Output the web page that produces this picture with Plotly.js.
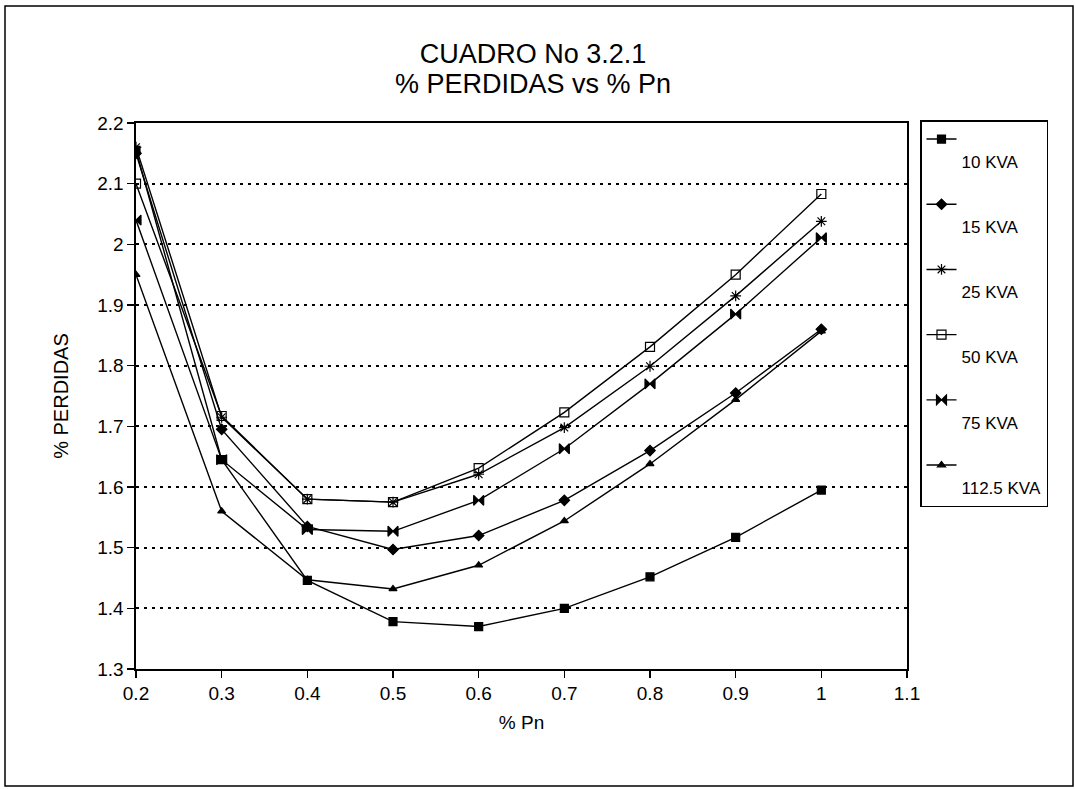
<!DOCTYPE html>
<html>
<head>
<meta charset="utf-8">
<script src="https://cdn.plot.ly/plotly-3.0.1.min.js"></script>
<style>
  html, body { margin: 0; padding: 0; background: #fff; }
  #chart { width: 1075px; height: 789px; }
</style>
</head>
<body>
<div id="chart"></div>
<script>
// Carga relativa (% Pn) y pérdidas (%) por potencia nominal del transformador
const carga = [0.2, 0.3, 0.4, 0.5, 0.6, 0.7, 0.8, 0.9, 1.0];

const perd10kva  = [2.155, 1.645, 1.446, 1.378, 1.370, 1.400, 1.452, 1.517, 1.595];
const perd15kva  = [2.150, 1.695, 1.535, 1.497, 1.520, 1.578, 1.660, 1.755, 1.860];
const perd25kva  = [2.160, 1.715, 1.580, 1.575, 1.621, 1.698, 1.799, 1.915, 2.038];
const perd50kva  = [2.100, 1.717, 1.580, 1.575, 1.631, 1.723, 1.831, 1.950, 2.083];
const perd75kva  = [2.040, 1.645, 1.530, 1.527, 1.578, 1.663, 1.770, 1.885, 2.011];
const perd112kva = [1.950, 1.560, 1.447, 1.432, 1.471, 1.544, 1.638, 1.744, 1.857];

const nombres = ['10 KVA', '15 KVA', '25 KVA', '50 KVA', '75 KVA', '112.5 KVA'];

const xTicks = [0.2, 0.3, 0.4, 0.5, 0.6, 0.7, 0.8, 0.9, 1.0, 1.1];
const yTicks = [1.3, 1.4, 1.5, 1.6, 1.7, 1.8, 1.9, 2.0, 2.1, 2.2];

const titulo = 'CUADRO No 3.2.1';
const subtitulo = '% PERDIDAS vs % Pn';

const series = [perd10kva, perd15kva, perd25kva, perd50kva, perd75kva, perd112kva];
const simbolos = [
  { symbol: 'square', size: 8 },
  { symbol: 'diamond', size: 8 },
  { symbol: 'asterisk-open', size: 9 },
  { symbol: 'square-open', size: 9 },
  { symbol: 'bowtie', size: 10 },
  { symbol: 'triangle-up', size: 7 }
];

const FONT = 'Liberation Sans, Arial, Helvetica, sans-serif';

const traces = series.map((valores, i) => ({
  type: 'scatter',
  mode: 'lines+markers',
  x: carga,
  y: valores,
  name: '<br>' + nombres[i],
  legendgroup: 'g' + i,
  line: { color: '#000', width: 1.4 },
  marker: {
    symbol: simbolos[i].symbol,
    size: simbolos[i].size,
    color: '#000',
    line: { color: '#000', width: 1.2 }
  }
}));

const layout = {
  width: 1075,
  height: 789,
  paper_bgcolor: '#fff',
  plot_bgcolor: '#fff',
  font: { family: FONT, color: '#000', size: 16 },
  margin: { l: 136, r: 168, t: 123, b: 120, pad: 0 },
  title: {
    text: titulo,
    font: { family: FONT, size: 27, color: '#000' },
    x: 0.515, xref: 'paper', xanchor: 'center',
    y: 1 - 54 / 789, yref: 'container', yanchor: 'middle'
  },
  annotations: [{
    text: subtitulo,
    xref: 'paper', yref: 'paper',
    x: 0.515, xanchor: 'center',
    y: (669 - 84) / 546, yanchor: 'middle',
    showarrow: false,
    font: { family: FONT, size: 27, color: '#000' }
  }],
  xaxis: {
    range: [0.2, 1.1],
    tickvals: xTicks,
    ticktext: xTicks.map(v => String(+v.toFixed(1))),
    ticks: 'outside', ticklen: 7, tickwidth: 1.2, tickcolor: '#000',
    showgrid: false, zeroline: false,
    showline: true, linecolor: '#000', linewidth: 1.6, mirror: true,
    tickfont: { family: FONT, size: 19, color: '#000' },
    title: { text: '% Pn', font: { family: FONT, size: 19, color: '#000' }, standoff: 12 }
  },
  yaxis: {
    range: [1.3, 2.2],
    tickvals: yTicks,
    ticktext: yTicks.map(v => String(+v.toFixed(1))),
    ticks: 'outside', ticklen: 7, tickwidth: 1.2, tickcolor: '#000',
    showgrid: true, gridcolor: '#000', gridwidth: 2, griddash: '3px,5px',
    zeroline: false,
    showline: true, linecolor: '#000', linewidth: 1.6, mirror: true,
    tickfont: { family: FONT, size: 19, color: '#000' },
    title: { text: '% PERDIDAS', font: { family: FONT, size: 20, color: '#000' }, standoff: 23 }
  },
  showlegend: true,
  legend: {
    x: (920 - 136) / 771, xanchor: 'left',
    y: (669 - 120) / 546, yanchor: 'top',
    bgcolor: '#fff', bordercolor: '#000', borderwidth: 1.5,
    font: { family: FONT, size: 17, color: '#000' },
    valign: 'top',
    tracegroupgap: 18,
    itemwidth: 30
  },
  shapes: [{
    type: 'rect', xref: 'paper', yref: 'paper',
    x0: (5 - 136) / 771, x1: (1073 - 136) / 771,
    y0: (669 - 786) / 546, y1: (669 - 6) / 546,
    line: { color: '#000', width: 1.5 }, fillcolor: 'rgba(0,0,0,0)', layer: 'below'
  }]
};

Plotly.newPlot('chart', traces, layout, { displayModeBar: false, staticPlot: true });
</script>
</body>
</html>
